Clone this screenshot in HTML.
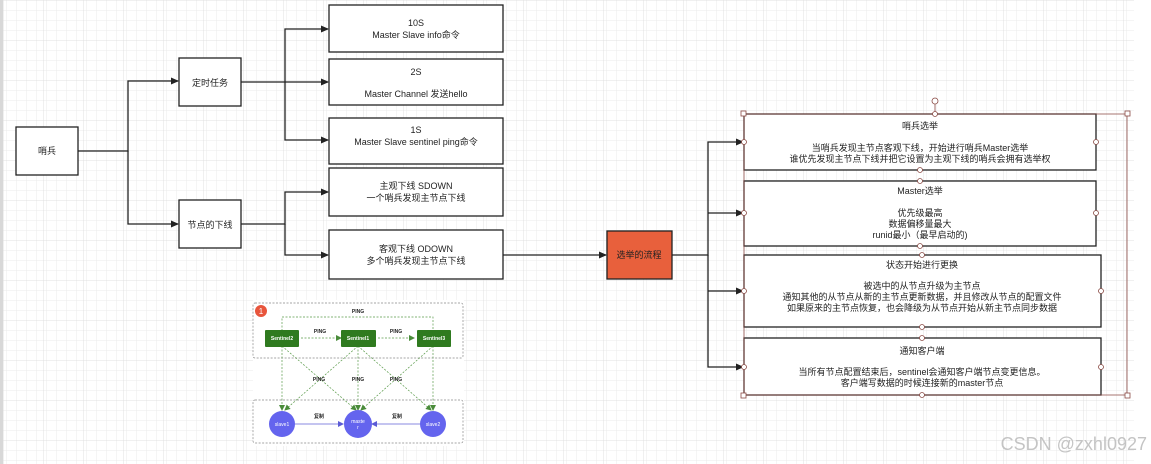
<!DOCTYPE html>
<html><head><meta charset="utf-8"><style>
html,body{margin:0;padding:0;background:#fff}
svg{display:block}
text{font-family:"Liberation Sans","Noto Sans CJK SC",sans-serif;font-size:9px;fill:#222}
</style></head><body>
<svg width="1151" height="464" viewBox="0 0 1151 464" xmlns="http://www.w3.org/2000/svg">
<defs>
<pattern id="g" width="10" height="10" patternUnits="userSpaceOnUse" x="3" y="0">
<path d="M10 0H0V10" fill="none" stroke="#ebebeb" stroke-width="1"/></pattern>
<pattern id="G" width="40" height="40" patternUnits="userSpaceOnUse" x="3" y="0">
<rect width="40" height="40" fill="url(#g)"/><path d="M40 0H0V40" fill="none" stroke="#e0e0e0" stroke-width="1"/></pattern>
<marker id="a" markerWidth="8" markerHeight="8" refX="7" refY="4" orient="auto" markerUnits="userSpaceOnUse"><path d="M0,0.5 L8,4 L0,7.5z" fill="#222"/></marker>
<marker id="ga" markerWidth="6" markerHeight="6" refX="5" refY="3" orient="auto" markerUnits="userSpaceOnUse"><path d="M0,0 L6,3 L0,6z" fill="#4a8c3a"/></marker>
<marker id="ba" markerWidth="6" markerHeight="6" refX="5" refY="3" orient="auto" markerUnits="userSpaceOnUse"><path d="M0,0 L6,3 L0,6z" fill="#5b5bd6"/></marker>
</defs>
<rect width="1151" height="464" fill="#fff"/>
<rect x="3" y="0" width="1131" height="464" fill="url(#G)"/>
<rect x="0" y="0" width="3" height="464" fill="#d8d8d8"/>

<g fill="#fff" stroke="#222" stroke-width="1.3">
<rect x="16" y="127" width="62" height="48"/>
<rect x="179" y="58" width="62" height="48"/>
<rect x="179" y="200" width="62" height="48"/>
<rect x="329" y="5" width="174" height="47"/>
<rect x="329" y="59" width="174" height="46"/>
<rect x="329" y="118" width="174" height="46"/>
<rect x="329" y="168" width="174" height="48"/>
<rect x="329" y="230" width="174" height="49"/>
<rect x="607" y="231" width="65" height="48" fill="#e8603c"/>
<rect x="744" y="114" width="352" height="56"/>
<rect x="744" y="181" width="352" height="65"/>
<rect x="744" y="255" width="357" height="72"/>
<rect x="744" y="338" width="357" height="57"/>
</g>

<g fill="none" stroke="#222" stroke-width="1.3">
<path d="M78 151H128V81H178" marker-end="url(#a)"/>
<path d="M128 151V224H178" marker-end="url(#a)"/>
<path d="M241 82H285V29H328" marker-end="url(#a)"/>
<path d="M285 82H328" marker-end="url(#a)"/>
<path d="M285 82V140H328" marker-end="url(#a)"/>
<path d="M241 224H285V192H328" marker-end="url(#a)"/>
<path d="M285 224V255H328" marker-end="url(#a)"/>
<path d="M503 255H606" marker-end="url(#a)"/>
<path d="M672 255H708V142H743" marker-end="url(#a)"/>
<path d="M708 213H743" marker-end="url(#a)"/>
<path d="M708 291H743" marker-end="url(#a)"/>
<path d="M708 255V367H743" marker-end="url(#a)"/>
</g>

<!-- selection handles -->
<g fill="#fff" stroke="#8a4a44" stroke-width="0.8">
<path d="M744 114H1127V395H744z" fill="none"/>
<line x1="935" y1="104" x2="935" y2="114"/>
<circle cx="935" cy="101" r="3"/>
<rect x="741" y="111" width="5" height="5"/><rect x="1125" y="111" width="5" height="5"/>
<rect x="741" y="393" width="5" height="5"/><rect x="1125" y="393" width="5" height="5"/>
<circle cx="935" cy="114" r="2.5"/><circle cx="744" cy="142" r="2.5"/><circle cx="1096" cy="142" r="2.5"/><circle cx="920" cy="170" r="2.5"/>
<circle cx="920" cy="181" r="2.5"/><circle cx="744" cy="213" r="2.5"/><circle cx="1096" cy="213" r="2.5"/><circle cx="920" cy="246" r="2.5"/>
<circle cx="922" cy="255" r="2.5"/><circle cx="744" cy="291" r="2.5"/><circle cx="1101" cy="291" r="2.5"/><circle cx="922" cy="327" r="2.5"/>
<circle cx="922" cy="338" r="2.5"/><circle cx="744" cy="367" r="2.5"/><circle cx="1101" cy="367" r="2.5"/><circle cx="922" cy="395" r="2.5"/>
</g>

<g text-anchor="middle">
<text x="47" y="154">哨兵</text>
<text x="210" y="86">定时任务</text>
<text x="210" y="228">节点的下线</text>
<text x="416" y="26">10S</text><text x="416" y="38">Master Slave info命令</text>
<text x="416" y="75">2S</text><text x="416" y="97">Master Channel 发送hello</text>
<text x="416" y="133">1S</text><text x="416" y="145">Master Slave  sentinel ping命令</text>
<text x="416" y="189">主观下线  SDOWN</text><text x="416" y="201">一个哨兵发现主节点下线</text>
<text x="416" y="252">客观下线 ODOWN</text><text x="416" y="264">多个哨兵发现主节点下线</text>
<text x="639" y="258">选举的流程</text>
<text x="920" y="129">哨兵选举</text>
<text x="920" y="151">当哨兵发现主节点客观下线，开始进行哨兵Master选举</text>
<text x="920" y="162">谁优先发现主节点下线并把它设置为主观下线的哨兵会拥有选举权</text>
<text x="920" y="194">Master选举</text>
<text x="920" y="216">优先级最高</text>
<text x="920" y="227">数据偏移量最大</text>
<text x="920" y="238">runid最小（最早启动的)</text>
<text x="922" y="268">状态开始进行更换</text>
<text x="922" y="289">被选中的从节点升级为主节点</text>
<text x="922" y="300">通知其他的从节点从新的主节点更新数据，并且修改从节点的配置文件</text>
<text x="922" y="311">如果原来的主节点恢复，也会降级为从节点开始从新主节点同步数据</text>
<text x="922" y="354">通知客户端</text>
<text x="922" y="375">当所有节点配置结束后，sentinel会通知客户端节点变更信息。</text>
<text x="922" y="386">客户端写数据的时候连接新的master节点</text>
</g>

<!-- embedded image -->
<rect x="253" y="300" width="211" height="146" fill="#fff"/>
<g fill="none" stroke="#888" stroke-width="0.7" stroke-dasharray="2,1.5">
<rect x="253" y="303" width="210" height="55" rx="2"/>
<rect x="253" y="400" width="210" height="43" rx="2"/>
</g>
<circle cx="261" cy="311" r="6" fill="#e8553c"/>
<text x="261" y="314" text-anchor="middle" style="font-size:8px;fill:#fff">1</text>
<g stroke="#5a9a4a" stroke-width="0.7" stroke-dasharray="2,1.5" fill="none">
<path d="M282 331V317H433V331"/>
<path d="M301 338H341" marker-end="url(#ga)"/>
<path d="M378 338H414" marker-end="url(#ga)"/>
<path d="M282 346V410" marker-end="url(#ga)"/>
<path d="M282 346L356 410" marker-end="url(#ga)"/>
<path d="M358 346V410" marker-end="url(#ga)"/>
<path d="M358 346L285 410" marker-end="url(#ga)"/>
<path d="M358 346L431 410" marker-end="url(#ga)"/>
<path d="M433 346V410" marker-end="url(#ga)"/>
<path d="M433 346L361 410" marker-end="url(#ga)"/>
</g>
<g fill="#2f7a1f">
<rect x="265" y="330" width="34" height="17" rx="1"/>
<rect x="341" y="330" width="35" height="17" rx="1"/>
<rect x="417" y="330" width="34" height="17" rx="1"/>
</g>
<g text-anchor="middle" style="font-size:5px;font-weight:bold">
<text x="282" y="340" style="fill:#fff;font-size:5px">Sentinel2</text>
<text x="358" y="340" style="fill:#fff;font-size:5px">Sentinel1</text>
<text x="434" y="340" style="fill:#fff;font-size:5px">Sentinel3</text>
<text x="358" y="313" style="font-size:5px">PING</text>
<text x="320" y="333" style="font-size:5px">PING</text>
<text x="396" y="333" style="font-size:5px">PING</text>
<text x="319" y="381" style="font-size:5px">PING</text>
<text x="358" y="381" style="font-size:5px">PING</text>
<text x="396" y="381" style="font-size:5px">PING</text>
<text x="319" y="418" style="font-size:5px">复制</text>
<text x="397" y="418" style="font-size:5px">复制</text>
</g>
<path d="M295 424H343" stroke="#8a8ae0" stroke-width="1" marker-end="url(#ba)"/>
<path d="M421 424H372" stroke="#8a8ae0" stroke-width="1" marker-end="url(#ba)"/>
<g fill="#6464ee">
<circle cx="282" cy="424" r="13"/><circle cx="358" cy="424" r="14"/><circle cx="433" cy="424" r="13"/>
</g>
<g text-anchor="middle">
<text x="282" y="426" style="fill:#fff;font-size:5px">slave1</text>
<text x="358" y="423" style="fill:#fff;font-size:5px">maste</text>
<text x="358" y="429" style="fill:#fff;font-size:5px">r</text>
<text x="433" y="426" style="fill:#fff;font-size:5px">slave2</text>
</g>

<text x="1147" y="450" text-anchor="end" style="font-size:18px;fill:#c4c4c4">CSDN @zxhl0927</text>
</svg>
</body></html>
